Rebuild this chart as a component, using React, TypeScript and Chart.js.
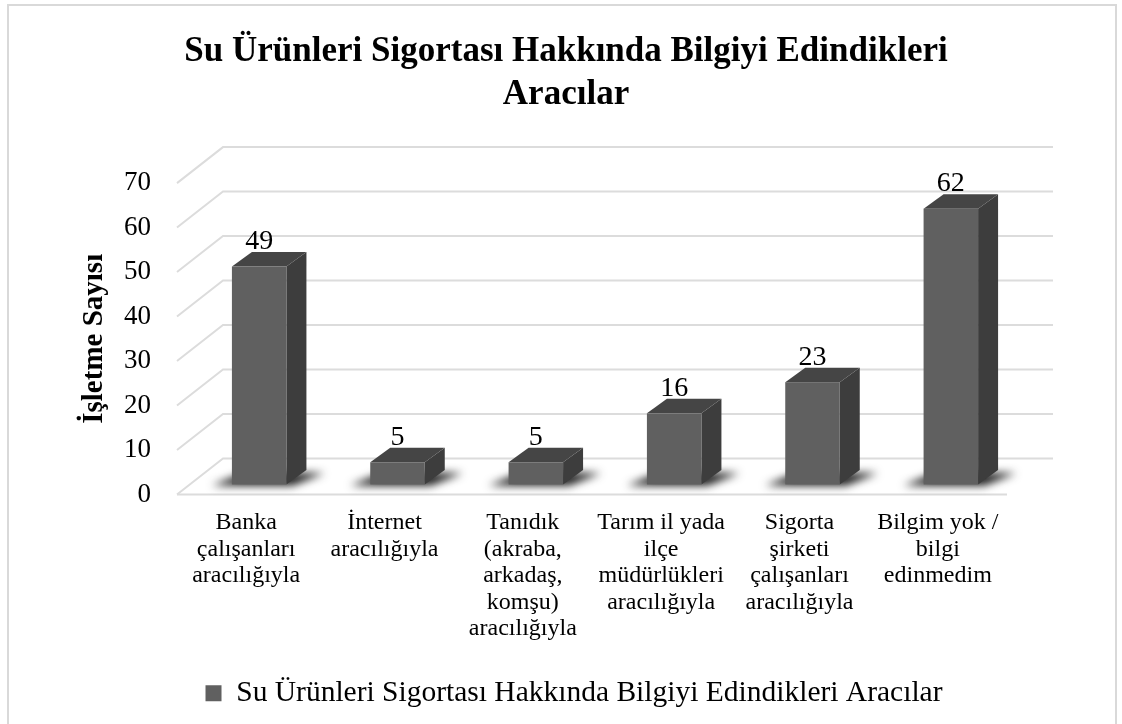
import React, { useEffect, useRef } from "react";
import { Chart, registerables } from "chart.js";

Chart.register(...registerables);

const chartTitle = ["Su Ürünleri Sigortası Hakkında Bilgiyi Edindikleri", "Aracılar"];
const seriesName = "Su Ürünleri Sigortası Hakkında Bilgiyi Edindikleri Aracılar";
const categories = [
  ["Banka", "çalışanları", "aracılığıyla"],
  ["İnternet", "aracılığıyla"],
  ["Tanıdık", "(akraba,", "arkadaş,", "komşu)", "aracılığıyla"],
  ["Tarım il yada", "ilçe", "müdürlükleri", "aracılığıyla"],
  ["Sigorta", "şirketi", "çalışanları", "aracılığıyla"],
  ["Bilgim yok /", "bilgi", "edinmedim"],
];
const values = [49, 5, 5, 16, 23, 62];
const yAxisTitle = "İşletme Sayısı";
const yMin = 0;
const yMax = 70;
const yStep = 10;

const FONT = "'Liberation Serif', 'Times New Roman', serif";

const threeD = {
  id: "threeD",
  afterLayout(chart: any) {
    const lg = chart.legend;
    if (lg) {
      lg.left += 8;
      lg.right += 8;
    }
  },
  beforeDraw(chart: any) {
    const ctx = chart.ctx;
    ctx.save();
    ctx.strokeStyle = "#d9d9d9";
    ctx.lineWidth = 2;
    ctx.strokeRect(8, 5, 1108, 740);
    ctx.restore();
  },
  beforeDatasetsDraw(chart: any) {
    const ctx = chart.ctx;
    const area = chart.chartArea;
    const yScale = chart.scales.y;
    const D = { x: 46, y: -36 };
    ctx.save();
    ctx.strokeStyle = "#dcdcdc";
    ctx.lineWidth = 2;
    yScale.ticks.forEach((t: any) => {
      const yf = yScale.getPixelForValue(t.value);
      ctx.beginPath();
      ctx.moveTo(area.left, yf);
      ctx.lineTo(area.left + D.x, yf + D.y);
      ctx.lineTo(area.right + D.x, yf + D.y);
      ctx.stroke();
    });
    const y0 = yScale.getPixelForValue(0);
    ctx.beginPath();
    ctx.moveTo(area.left, y0);
    ctx.lineTo(area.right, y0);
    ctx.stroke();

    const meta = chart.getDatasetMeta(0);
    const off = { x: 13, y: -10 };
    const dep = { x: 20, y: -14.5 };
    meta.data.forEach((bar: any) => {
      const w = bar.width;
      const x0 = bar.x - w / 2 + off.x;
      const x1 = bar.x + w / 2 + off.x;
      const yB = bar.base + off.y;
      ctx.save();
      ctx.filter = "blur(4px)";
      ctx.fillStyle = "rgba(25,25,25,1)";
      ctx.beginPath();
      ctx.moveTo(x0 - 20, yB + 1);
      ctx.lineTo(x1 + 6, yB + 1);
      ctx.lineTo(x1 + dep.x + 18, yB + dep.y + 3);
      ctx.lineTo(x0 + dep.x - 8, yB + dep.y + 3);
      ctx.closePath();
      ctx.fill();
      ctx.restore();
    });
    meta.data.forEach((bar: any, i: number) => {
      const w = bar.width;
      const x0 = bar.x - w / 2 + off.x;
      const x1 = bar.x + w / 2 + off.x;
      const yB = bar.base + off.y;
      const yT = bar.y + off.y;
      ctx.fillStyle = "#3d3d3d";
      ctx.beginPath();
      ctx.moveTo(x1, yT);
      ctx.lineTo(x1 + dep.x, yT + dep.y);
      ctx.lineTo(x1 + dep.x, yB + dep.y);
      ctx.lineTo(x1, yB);
      ctx.closePath();
      ctx.fill();
      ctx.fillStyle = "#454545";
      ctx.beginPath();
      ctx.moveTo(x0, yT);
      ctx.lineTo(x1, yT);
      ctx.lineTo(x1 + dep.x, yT + dep.y);
      ctx.lineTo(x0 + dep.x, yT + dep.y);
      ctx.closePath();
      ctx.fill();
      ctx.fillStyle = "#606060";
      ctx.fillRect(x0, yT, x1 - x0, yB - yT);
      ctx.fillStyle = "#000";
      ctx.font = `28px ${FONT}`;
      ctx.textAlign = "center";
      ctx.textBaseline = "alphabetic";
      ctx.fillText(String(values[i]), (x0 + x1) / 2, yT + dep.y - 3);
    });
    ctx.restore();
    return false;
  },
};

export default function App() {
  const ref = useRef<HTMLCanvasElement | null>(null);
  useEffect(() => {
    if (!ref.current) return;
    const chart = new Chart(ref.current, {
      type: "bar",
      data: {
        labels: categories,
        datasets: [
          {
            label: seriesName,
            data: values,
            backgroundColor: "#606060",
            borderWidth: 0,
            categoryPercentage: 1,
            barPercentage: 0.394,
          },
        ],
      },
      options: {
        responsive: false,
        animation: false,
        devicePixelRatio: 1,
        layout: { padding: { left: 18, right: 8, top: 0, bottom: 6 } },
        plugins: {
          tooltip: { enabled: false },
          title: {
            display: true,
            text: chartTitle,
            color: "#000",
            font: { family: FONT, size: 35, weight: "bold", lineHeight: 1.23 },
            padding: { top: 30, bottom: 67 },
          },
          legend: {
            display: true,
            position: "bottom",
            labels: {
              color: "#000",
              boxWidth: 16,
              boxHeight: 16,
              padding: 10,
              font: { family: FONT, size: 29.5 },
            },
          },
        },
        scales: {
          x: {
            offset: true,
            grid: { display: false, drawTicks: false },
            border: { display: false },
            ticks: {
              color: "#000",
              maxRotation: 0,
              autoSkip: false,
              padding: 15,
              font: { family: FONT, size: 24, lineHeight: 26.5 / 24 },
            },
            afterFit(s: any) {
              s.height = 174;
            },
          },
          y: {
            min: yMin,
            max: yMax,
            grid: { display: false, drawTicks: false },
            border: { display: false },
            ticks: {
              stepSize: yStep,
              color: "#000",
              padding: 26,
              font: { family: FONT, size: 27 },
            },
            title: {
              display: true,
              text: yAxisTitle,
              color: "#000",
              font: { family: FONT, size: 29, weight: "bold", lineHeight: 1.2 },
              padding: { top: 59, bottom: 0 },
            },
            afterFit(s: any) {
              s.width = 159;
            },
          },
          y2: {
            type: "linear",
            position: "right",
            display: true,
            grid: { display: false, drawTicks: false },
            border: { display: false },
            ticks: { display: false },
            afterFit(s: any) {
              s.width = 107;
            },
          },
        },
      },
      plugins: [threeD],
    } as any);
    return () => chart.destroy();
  }, []);
  return (
    <div style={{ position: "absolute", left: 0, top: 0, width: 1122, height: 724, background: "#fff" }}>
      <canvas ref={ref} width={1122} height={724} style={{ display: "block", width: 1122, height: 724 }} />
    </div>
  );
}
